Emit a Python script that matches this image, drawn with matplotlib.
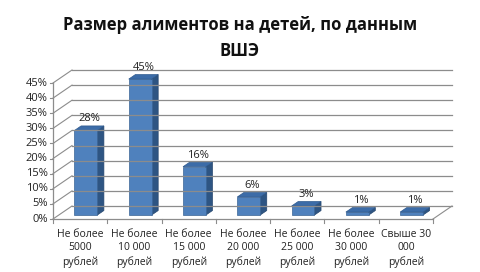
import matplotlib.pyplot as plt
from matplotlib.patches import Polygon

plt.rcParams['font.family'] = ['Open Sans', 'DejaVu Sans']

# Data
categories = ['Не более\n5000\nрублей', 'Не более\n10 000\nрублей', 'Не более\n15 000\nрублей',
              'Не более\n20 000\nрублей', 'Не более\n25 000\nрублей', 'Не более\n30 000\nрублей',
              'Свыше 30\n000\nрублей']
values = [28, 45, 16, 6, 3, 1, 1]
value_labels = ['28%', '45%', '16%', '6%', '3%', '1%', '1%']
yticks = [0, 5, 10, 15, 20, 25, 30, 35, 40, 45]

# 3D look: depth offset of the back wall in data units
dx, dy = 0.35, 4.3
t0, t1 = 0.3, 0.65      # bar front / back depth fraction
bar_w = 0.42

fig = plt.figure(figsize=(4.8, 2.72), dpi=100)
fig.patch.set_facecolor('white')
ax = fig.add_axes([53/480, (272-219)/272, 380/480, 136/272])
ax.set_xlim(-0.5, len(values) - 0.5)
ax.set_ylim(0, 45)
ax.axis('off')

n = len(values)
grid_c = '#8c8c8c'
txt_c = '#222222'

# back wall gridlines + left wall diagonals
for v in yticks:
    ax.plot([-0.5 + dx, n - 0.5 + dx], [v + dy, v + dy], color=grid_c, lw=0.9, clip_on=False)
    ax.plot([-0.5, -0.5 + dx], [v, v + dy], color=grid_c, lw=0.8, clip_on=False)
    ax.plot([-0.5 - 0.05, -0.5], [v, v], color=grid_c, lw=0.8, clip_on=False)
    ax.text(-0.5 - 0.1, v, f'{v}%', ha='right', va='center', fontsize=8, color=txt_c)

# front axis lines and floor edge
ax.plot([-0.5, -0.5], [0, 45], color=grid_c, lw=0.9, clip_on=False)
ax.plot([-0.5, n - 0.5], [0, 0], color=grid_c, lw=0.9, clip_on=False)
ax.plot([n - 0.5, n - 0.5 + dx], [0, dy], color=grid_c, lw=0.8, clip_on=False)
for i in range(n + 1):
    ax.plot([i - 0.5, i - 0.5], [0, -1.2], color=grid_c, lw=0.8, clip_on=False)

# bars
for i, v in enumerate(values):
    x0 = i - bar_w / 2 + t0 * dx
    x1 = x0 + bar_w
    y0 = t0 * dy
    ddx, ddy = (t1 - t0) * dx, (t1 - t0) * dy
    front = Polygon([(x0, y0), (x1, y0), (x1, y0 + v), (x0, y0 + v)],
                    closed=True, facecolor='#4F81BD', edgecolor='#3b6596', lw=0.5, clip_on=False)
    side = Polygon([(x1, y0), (x1 + ddx, y0 + ddy), (x1 + ddx, y0 + ddy + v), (x1, y0 + v)],
                   closed=True, facecolor='#2E5583', edgecolor='#25466d', lw=0.5, clip_on=False)
    top = Polygon([(x0, y0 + v), (x1, y0 + v), (x1 + ddx, y0 + ddy + v), (x0 + ddx, y0 + ddy + v)],
                  closed=True, facecolor='#3C6CA8', edgecolor='#2f5a8e', lw=0.5, clip_on=False)
    ax.add_patch(side)
    ax.add_patch(front)
    ax.add_patch(top)
    ax.text(x0 + bar_w / 2 + ddx / 2, y0 + ddy + v + 0.5, value_labels[i],
            ha='center', va='bottom', fontsize=8, color=txt_c)

# category labels
for i, c in enumerate(categories):
    ax.text(i, -3.3, c, ha='center', va='top', fontsize=7.5, color=txt_c, linespacing=1.3)

# title
fig.text(0.5, 0.94, 'Размер алиментов на детей, по данным\nВШЭ', ha='center', va='top',
         fontsize=12, fontweight='bold', color='#111111', linespacing=1.55)

fig.savefig('out.png', dpi=100)
